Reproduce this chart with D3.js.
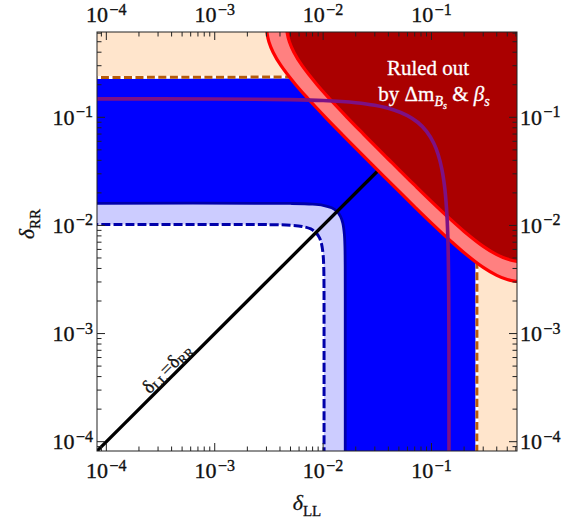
<!DOCTYPE html>
<html>
<head>
<meta charset="utf-8">
<script src="https://cdn.jsdelivr.net/npm/d3@7"></script>
<style>
  body { margin: 0; background: #fff; }
  svg { display: block; }
</style>
</head>
<body>
<svg id="chart" width="573" height="527"></svg>
<script>
// axis range (same on both axes) and decade labels
const axisDomain = [8.2e-5, 0.615];
const decades = [-4, -3, -2, -1];

// region boundaries, as [δLL, δRR] points
const blueEdge = [[7e-5, 0.233], [0.05, 0.233], [0.12, 0.225], [0.2, 0.19], [0.24, 0.12], [0.258, 0.05], [0.262, 0.01], [0.262, 7e-5]];
const lightEdge = [[7e-5, 0.016], [0.005, 0.01596], [0.008, 0.01574], [0.010, 0.01535], [0.012, 0.01455], [0.0134, 0.01351],
  [0.0145, 0.01209], [0.0152, 0.0105], [0.0157, 0.00831], [0.0159, 0.00635], [0.01598, 0.00425], [0.016, 0.002], [0.016, 7e-5]];
const whiteEdge = [[7e-5, 0.0102], [0.0032, 0.01017], [0.0051, 0.01003], [0.0064, 0.00979], [0.0077, 0.00928], [0.00854, 0.00861],
  [0.00924, 0.00771], [0.00969, 0.00669], [0.01001, 0.0053], [0.01014, 0.00405], [0.01019, 0.00271], [0.0102, 0.0013], [0.0102, 7e-5]];
const purpleCurve = [[7e-5, 0.148], [0.001, 0.1477], [0.005, 0.1458], [0.01, 0.143], [0.02, 0.1365], [0.03, 0.1291], [0.045, 0.117],
  [0.06, 0.1038], [0.075, 0.0895], [0.09, 0.0741], [0.105, 0.0575], [0.115, 0.0455], [0.125, 0.0327], [0.133, 0.0215],
  [0.139, 0.0121], [0.142, 0.0068], [0.144, 0.0027], [0.1448, 0.0008], [0.145, 7e-5]];
const bandInner = [[0.00301, 0.7], [0.00304, 0.6], [0.00316, 0.5], [0.003455, 0.4], [0.00409, 0.3], [0.00559, 0.2], [0.0072, 0.15],
  [0.01052, 0.1], [0.01487, 0.07], [0.02073, 0.05], [0.0322, 0.0322], [0.05, 0.02073], [0.07, 0.01487], [0.1, 0.01052],
  [0.15, 0.0072], [0.2, 0.00559], [0.3, 0.00409], [0.4, 0.003455], [0.5, 0.00316], [0.6, 0.00304], [0.7, 0.00301]];
const bandOuter = [[0.004604, 0.7], [0.004667, 0.6], [0.004885, 0.5], [0.005375, 0.4], [0.006408, 0.3], [0.0088, 0.2], [0.01136, 0.15],
  [0.01663, 0.1], [0.02354, 0.07], [0.03283, 0.05], [0.0405, 0.0405], [0.05, 0.03283], [0.07, 0.02354], [0.1, 0.01663],
  [0.15, 0.01136], [0.2, 0.0088], [0.3, 0.006408], [0.4, 0.005375], [0.5, 0.004885], [0.6, 0.004667], [0.7, 0.004604]];
const diagonal = [[7e-5, 7e-5], [0.0322, 0.0322]];

const pL = 97, pR = 517, pT = 32, pB = 451;
const svg = d3.select("#chart").attr("font-family", "Liberation Serif");
const x = d3.scaleLog().domain(axisDomain).range([pL, pR]);
const y = d3.scaleLog().domain(axisDomain).range([pB, pT]);

svg.append("clipPath").attr("id", "plot")
  .append("rect").attr("x", pL).attr("y", pT).attr("width", pR - pL).attr("height", pB - pT);
const g = svg.append("g").attr("clip-path", "url(#plot)");

const line = d3.line().x(d => x(d[0])).y(d => y(d[1])).curve(d3.curveCatmullRom);
// close a boundary curve through a corner point
const region = (pts, corner) => line(pts) + "L" + x(corner[0]) + "," + y(corner[1]) + "Z";

// peach background
g.append("rect").attr("x", pL).attr("y", pT).attr("width", pR - pL).attr("height", pB - pT)
  .attr("fill", "#FFE5CC");

// blue allowed region with orange dashed edge
g.append("path").attr("d", region(blueEdge, [7e-5, 7e-5])).attr("fill", "#0000FF");
g.append("path").attr("d", line(blueEdge)).attr("fill", "none").attr("stroke", "#fff").attr("stroke-width", 3);
g.append("path").attr("d", line(blueEdge)).attr("fill", "none").attr("stroke", "#B85C0A")
  .attr("stroke-width", 3).attr("stroke-dasharray", "8,3.5");

// light blue band, solid edge
g.append("path").attr("d", region(lightEdge, [7e-5, 7e-5])).attr("fill", "#CCCCFF");
g.append("path").attr("d", line(lightEdge)).attr("fill", "none").attr("stroke", "#0000AA").attr("stroke-width", 2.8);

// white inside, dashed edge
g.append("path").attr("d", region(whiteEdge, [7e-5, 7e-5])).attr("fill", "#fff");
g.append("path").attr("d", line(whiteEdge)).attr("fill", "none").attr("stroke", "#0000AA")
  .attr("stroke-width", 3).attr("stroke-dasharray", "9,3");

// δLL = δRR line
g.append("path").attr("d", d3.line().x(d => x(d[0])).y(d => y(d[1]))(diagonal))
  .attr("stroke", "#000").attr("stroke-width", 3.3);

// ruled out band
g.append("path").attr("d", region(bandInner, [0.7, 0.7])).attr("fill", "#FF8080");
g.append("path").attr("d", region(bandOuter, [0.7, 0.7])).attr("fill", "#AA0000");
[bandInner, bandOuter].forEach(b => {
  g.append("path").attr("d", line(b)).attr("fill", "none").attr("stroke", "#FF0000").attr("stroke-width", 3.2);
});

// purple contour
g.append("path").attr("d", line(purpleCurve)).attr("fill", "none").attr("stroke", "#7D1185").attr("stroke-width", 3.6);

// frame and log ticks
svg.append("rect").attr("x", pL).attr("y", pT).attr("width", pR - pL).attr("height", pB - pT)
  .attr("fill", "none").attr("stroke", "#222").attr("stroke-width", 1);

const ticks = [];
for (let e = -5; e <= 0; e++) {
  for (let k = 1; k <= 9; k++) {
    const v = k * Math.pow(10, e);
    if (v >= axisDomain[0] && v <= axisDomain[1]) ticks.push({ v: v, major: k === 1 });
  }
}
const tk = svg.append("g").attr("stroke", "#222").attr("stroke-width", 1);
ticks.forEach(t => {
  const len = t.major ? 8 : 4.5;
  const px = x(t.v), py = y(t.v);
  tk.append("line").attr("x1", px).attr("x2", px).attr("y1", pB).attr("y2", pB - len);
  tk.append("line").attr("x1", px).attr("x2", px).attr("y1", pT).attr("y2", pT + len);
  tk.append("line").attr("y1", py).attr("y2", py).attr("x1", pL).attr("x2", pL + len);
  tk.append("line").attr("y1", py).attr("y2", py).attr("x1", pR).attr("x2", pR - len);
});

function powLabel(sel, e) {
  sel.append("tspan").text("10");
  sel.append("tspan").attr("dy", -7.5).attr("dx", 1.5).attr("font-size", 16).text("\u2212" + Math.abs(e));
}
const lab = svg.append("g").attr("font-size", 22).attr("fill", "#111")
  .attr("stroke", "#111").attr("stroke-width", 0.35);
decades.forEach(e => {
  const v = Math.pow(10, e);
  powLabel(lab.append("text").attr("x", x(v)).attr("y", 478).attr("text-anchor", "middle"), e);
  powLabel(lab.append("text").attr("x", x(v)).attr("y", 22).attr("text-anchor", "middle"), e);
  powLabel(lab.append("text").attr("x", 93).attr("y", y(v) + 7.5).attr("text-anchor", "end"), e);
  powLabel(lab.append("text").attr("x", 520).attr("y", y(v) + 7.5).attr("text-anchor", "start"), e);
});

// axis titles
const titles = svg.append("g").attr("fill", "#111").attr("stroke", "#111").attr("stroke-width", 0.3);
const xt = titles.append("text").attr("x", (pL + pR) / 2).attr("y", 510).attr("text-anchor", "middle");
xt.append("tspan").attr("font-size", 22).attr("font-style", "italic").text("δ");
xt.append("tspan").attr("font-size", 15).attr("dy", 6).text("LL");
const yt = titles.append("text").attr("transform", "translate(34,224) rotate(-90)").attr("text-anchor", "middle");
yt.append("tspan").attr("font-size", 22).attr("font-style", "italic").text("δ");
yt.append("tspan").attr("font-size", 15).attr("dy", 6).text("RR");

// label along the diagonal
const dl = titles.append("text")
  .attr("transform", `translate(${x(4.16e-4)},${y(4.16e-4)}) rotate(-45)`)
  .attr("text-anchor", "middle").attr("dy", -3);
dl.append("tspan").attr("font-size", 19).text("δ");
dl.append("tspan").attr("font-size", 13).attr("dy", 3).text("LL");
dl.append("tspan").attr("font-size", 19).attr("dy", -3).text("=δ");
dl.append("tspan").attr("font-size", 13).attr("dy", 3).text("RR");

// ruled-out annotation
const ann = svg.append("g").attr("fill", "#fff").attr("stroke", "#fff").attr("stroke-width", 0.3)
  .attr("text-anchor", "middle");
ann.append("text").attr("x", 428).attr("y", 75).attr("font-size", 21).text("Ruled out");
const a2 = ann.append("text").attr("x", 434).attr("y", 101).attr("font-size", 21);
a2.append("tspan").text("by Δm");
a2.append("tspan").attr("font-size", 14).attr("font-style", "italic").attr("dy", 5).text("B");
a2.append("tspan").attr("font-size", 10).attr("font-style", "italic").attr("dy", 3).text("s");
a2.append("tspan").attr("dy", -8).text(" & ");
a2.append("tspan").attr("font-style", "italic").text("β");
a2.append("tspan").attr("font-size", 14).attr("font-style", "italic").attr("dy", 5).text("s");
</script>
</body>
</html>
